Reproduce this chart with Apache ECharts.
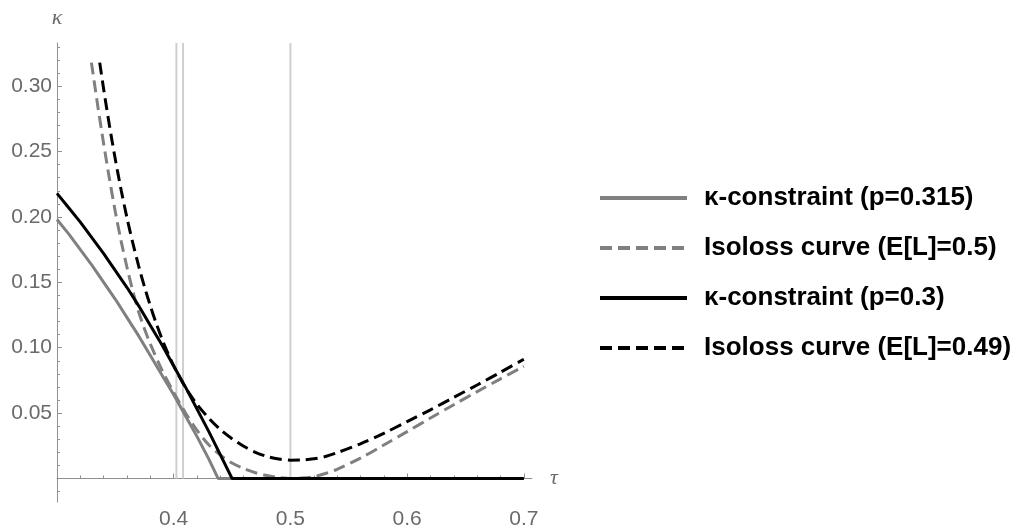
<!DOCTYPE html>
<html><head><meta charset="utf-8">
<script src="https://cdn.jsdelivr.net/npm/echarts@6/dist/echarts.min.js"></script>
<style>html,body{margin:0;padding:0;background:#fff}#c{width:1020px;height:530px}</style>
</head><body><div id="c"></div>
<script>
// ---- axis ticks / labels ----
const xMajorTicks = [0.3, 0.4, 0.5, 0.6, 0.7];
const xTickLabels = [0.4, 0.5, 0.6, 0.7];
const xMinorTicks = [0.32, 0.34, 0.36, 0.38, 0.42, 0.44, 0.46, 0.48, 0.52, 0.54, 0.56, 0.58, 0.62, 0.64, 0.66, 0.68];
const yMajorTicks = [0.05, 0.10, 0.15, 0.20, 0.25, 0.30];
const yTickLabels = [0.05, 0.10, 0.15, 0.20, 0.25, 0.30];
const yMinorTicks = [-0.01, 0.01, 0.02, 0.03, 0.04, 0.06, 0.07, 0.08, 0.09, 0.11, 0.12, 0.13, 0.14, 0.16, 0.17, 0.18, 0.19,
  0.21, 0.22, 0.23, 0.24, 0.26, 0.27, 0.28, 0.29, 0.31, 0.32, 0.33];
const xRange = [0.3, 0.707];
const yRange = [-0.018, 0.333];

// ---- series names ----
const seriesNames = ['κ-constraint (p=0.315)', 'Isoloss curve (E[L]=0.5)', 'κ-constraint (p=0.3)', 'Isoloss curve (E[L]=0.49)'];

// κ-constraint (p=0.315)
const tauConstraintA = [0.30, 0.31, 0.32, 0.33, 0.34, 0.35, 0.36, 0.37, 0.38, 0.39, 0.40, 0.41, 0.42, 0.43, 0.438, 0.50, 0.60, 0.70];
const kappaConstraintA = [0.198, 0.187, 0.175, 0.163, 0.150, 0.137, 0.123, 0.109, 0.094, 0.079, 0.064, 0.048, 0.032, 0.015, 0, 0, 0, 0];

// Isoloss curve (E[L]=0.5)
const tauIsolossA = [0.3295, 0.335, 0.34, 0.345, 0.35, 0.355, 0.36, 0.365, 0.37, 0.375, 0.38, 0.39, 0.40, 0.41, 0.42, 0.43, 0.44, 0.45, 0.46, 0.47, 0.48, 0.49, 0.50, 0.51, 0.52, 0.53, 0.54, 0.56, 0.58, 0.60, 0.62, 0.64, 0.66, 0.68, 0.70];
const kappaIsolossA = [0.318, 0.2845, 0.2558, 0.2288, 0.2038, 0.1813, 0.1613, 0.1433, 0.1273, 0.1143, 0.1028, 0.0828, 0.0658, 0.0503, 0.0368, 0.0258, 0.0178, 0.0118, 0.0076, 0.0044, 0.0022, 0.0008, 0, 0.0003, 0.0013, 0.0038, 0.0070, 0.0155, 0.0256, 0.0358, 0.0462, 0.0564, 0.0664, 0.0762, 0.0858];

// κ-constraint (p=0.3)
const tauConstraintB = [0.30, 0.31, 0.32, 0.33, 0.34, 0.35, 0.36, 0.37, 0.38, 0.39, 0.40, 0.41, 0.42, 0.43, 0.44, 0.45, 0.50, 0.60, 0.70];
const kappaConstraintB = [0.218, 0.207, 0.196, 0.184, 0.172, 0.159, 0.146, 0.132, 0.117, 0.102, 0.086, 0.070, 0.053, 0.036, 0.018, 0, 0, 0, 0];

// Isoloss curve (E[L]=0.49)
const tauIsolossB = [0.3366, 0.34, 0.345, 0.35, 0.355, 0.36, 0.365, 0.37, 0.375, 0.38, 0.385, 0.39, 0.395, 0.40, 0.41, 0.42, 0.43, 0.44, 0.45, 0.46, 0.47, 0.48, 0.49, 0.50, 0.51, 0.52, 0.53, 0.54, 0.56, 0.58, 0.60, 0.62, 0.64, 0.66, 0.68, 0.70];
const kappaIsolossB = [0.318, 0.2976, 0.2696, 0.2439, 0.2204, 0.1991, 0.1799, 0.1624, 0.1464, 0.1319, 0.1186, 0.1066, 0.0959, 0.0861, 0.0696, 0.0566, 0.0461, 0.0374, 0.0304, 0.0246, 0.0200, 0.0168, 0.0149, 0.0140, 0.0141, 0.0150, 0.0168, 0.0197, 0.0265, 0.0345, 0.0435, 0.0525, 0.0620, 0.0715, 0.0812, 0.0912];

// vertical reference lines (τ)
const vLineTaus = [0.4023, 0.408, 0.5];

const zip = (a, b) => a.map((v, i) => [v, b[i]]);
const GRAY = '#808080', BLACK = '#000000';
const AXIS = '#8f8f8f', LABEL = '#6a6a6a';
const FONT = 'Liberation Sans, Arial, sans-serif';

const chart = echarts.init(document.getElementById('c'), null, { renderer: 'canvas' });

function curve(name, tau, kappa, color, dashed) {
  return {
    type: 'line', name, data: zip(tau, kappa), symbol: 'none', showSymbol: false,
    smooth: dashed ? 0.3 : false,
    lineStyle: { color, width: 3, type: dashed ? [12, 6] : 'solid', cap: 'butt' },
    itemStyle: { color }, z: 3
  };
}

const vSeries = vLineTaus.map(t => ({
  type: 'line', data: [[t, 0], [t, yRange[1]]], symbol: 'none', silent: true,
  lineStyle: { color: '#cfcfcf', width: 2 }, z: 1
}));

const baseX = { type: 'value', min: xRange[0], max: xRange[1], position: 'bottom', splitLine: { show: false } };
const baseY = { type: 'value', min: yRange[0], max: yRange[1], position: 'left', splitLine: { show: false } };

chart.setOption({
  animation: false,
  grid: { left: 57, right: 488, top: 43, bottom: 3, containLabel: false },
  xAxis: [
    Object.assign({}, baseX, {
      name: 'τ', nameLocation: 'end', nameGap: 18,
      nameTextStyle: { fontSize: 22, fontStyle: 'italic', color: LABEL, fontFamily: 'Liberation Serif, serif', verticalAlign: 'middle' },
      axisLine: { show: true, onZero: true, lineStyle: { color: AXIS, width: 1 } },
      axisTick: { show: true, inside: true, length: 5, customValues: xMajorTicks, lineStyle: { color: AXIS } },
      axisLabel: { show: true, customValues: xTickLabels, margin: 7, fontSize: 21, color: LABEL, fontFamily: FONT, formatter: v => Number(v).toFixed(1) }
    }),
    Object.assign({}, baseX, {
      axisLine: { show: false, onZero: true },
      axisTick: { show: true, inside: true, length: 3, customValues: xMinorTicks, lineStyle: { color: AXIS } },
      axisLabel: { show: false }
    })
  ],
  yAxis: [
    Object.assign({}, baseY, {
      name: 'κ', nameLocation: 'end', nameGap: 14,
      nameTextStyle: { fontSize: 22, fontStyle: 'italic', color: LABEL, fontFamily: 'Liberation Serif, serif' },
      axisLine: { show: true, lineStyle: { color: AXIS, width: 1 } },
      axisTick: { show: true, inside: true, length: 5, customValues: yMajorTicks, lineStyle: { color: AXIS } },
      axisLabel: { show: true, customValues: yTickLabels, margin: 5, fontSize: 21, color: LABEL, fontFamily: FONT, formatter: v => Number(v).toFixed(2) }
    }),
    Object.assign({}, baseY, {
      axisLine: { show: false },
      axisTick: { show: true, inside: true, length: 3, customValues: yMinorTicks, lineStyle: { color: AXIS } },
      axisLabel: { show: false }
    })
  ],
  legend: {
    data: seriesNames, orient: 'vertical', left: 593, top: 178,
    itemWidth: 87, itemHeight: 14, itemGap: 20,
    lineStyle: { width: 4 },
    itemStyle: { opacity: 0 },
    textStyle: { fontSize: 26, fontWeight: 'bold', color: '#000', fontFamily: FONT, padding: [0, 0, 0, 12], lineHeight: 30 }
  },
  series: vSeries.concat([
    curve(seriesNames[0], tauConstraintA, kappaConstraintA, GRAY, false),
    curve(seriesNames[1], tauIsolossA, kappaIsolossA, GRAY, true),
    curve(seriesNames[2], tauConstraintB, kappaConstraintB, BLACK, false),
    curve(seriesNames[3], tauIsolossB, kappaIsolossB, BLACK, true)
  ])
});
</script></body></html>
